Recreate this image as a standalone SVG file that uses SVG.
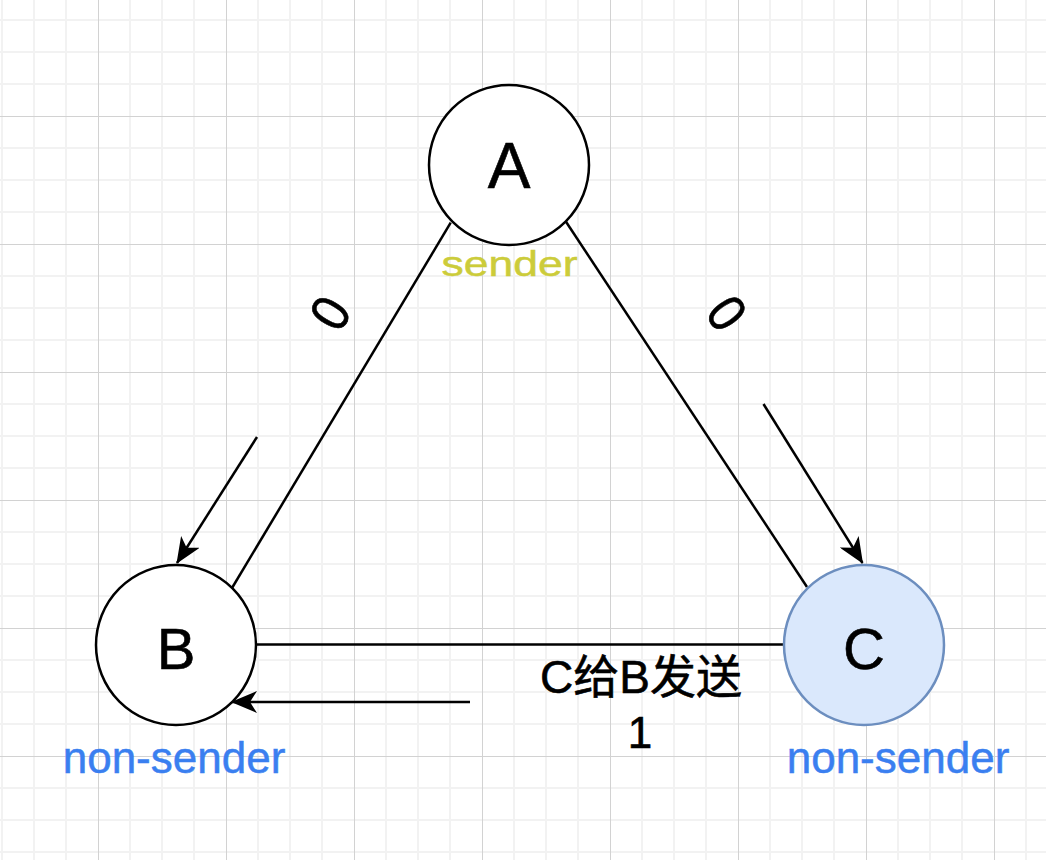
<svg xmlns="http://www.w3.org/2000/svg" width="1046" height="860" viewBox="0 0 1046 860">
  <defs>
    <pattern id="grid" patternUnits="userSpaceOnUse" x="-30" y="-12" width="128" height="128">
      <rect width="128" height="128" fill="#ffffff"/>
      <g stroke="#f2f2f2" stroke-width="2">
        <line x1="32" y1="0" x2="32" y2="128"/>
        <line x1="64" y1="0" x2="64" y2="128"/>
        <line x1="96" y1="0" x2="96" y2="128"/>
        <line x1="0" y1="32" x2="128" y2="32"/>
        <line x1="0" y1="64" x2="128" y2="64"/>
        <line x1="0" y1="96" x2="128" y2="96"/>
      </g>
      <g stroke="#d2d2d2" stroke-width="1">
        <line x1="0.5" y1="0" x2="0.5" y2="128"/>
        <line x1="0" y1="0.5" x2="128" y2="0.5"/>
      </g>
    </pattern>
    <marker id="arrow" markerUnits="userSpaceOnUse" viewBox="0 0 26 22" refX="25" refY="11" markerWidth="26" markerHeight="22" orient="auto">
      <path d="M0,0 L26,11 L0,22 L7,11 Z" fill="#000"/>
    </marker>
  </defs>
  <style>
    .edge { stroke: #000; stroke-width: 2.5; fill: none; }
    .arr { stroke: #000; stroke-width: 2.5; fill: none; marker-end: url(#arrow); }
    .node { fill: #ffffff; stroke: #000; stroke-width: 2.5; }
    .lbl { font-family: "Liberation Sans", Arial, "Noto Sans CJK SC", sans-serif; fill: #000; stroke: #000; stroke-width: 0.6; text-anchor: middle; }
    .blue { font-family: "Liberation Sans", Arial, sans-serif; fill: #3a7ff0; stroke: #3a7ff0; stroke-width: 0.5; text-anchor: middle; font-size: 44px; }
  </style>
  <rect width="1046" height="860" fill="url(#grid)"/>

  <g id="connectors">
    <line class="edge" x1="450.7" y1="222.7" x2="232" y2="588"/>
    <line class="edge" x1="566" y1="221.7" x2="807" y2="587"/>
    <line class="edge" x1="256" y1="644.5" x2="784" y2="644.5"/>
    <line class="arr" x1="257" y1="437" x2="177" y2="563"/>
    <line class="arr" x1="763.5" y1="404" x2="862.5" y2="563"/>
    <line class="arr" x1="470" y1="702" x2="232" y2="702"/>
    <text class="lbl" font-size="54" stroke-width="1.6" transform="translate(330,313) rotate(-59) scale(0.9,1)" x="0" y="19">0</text>
    <text class="lbl" font-size="54" stroke-width="1.6" transform="translate(727,313) rotate(54) scale(0.9,1)" x="0" y="19">0</text>
    <text class="lbl" font-size="46" x="641" y="693">C给B发送</text>
    <text class="lbl" font-size="44" x="640" y="748">1</text>
  </g>

  <g id="node-A">
    <circle class="node" cx="509" cy="165" r="80"/>
    <text class="lbl" font-size="64" x="509" y="188">A</text>
    <text font-family="Liberation Sans, Arial, sans-serif" font-size="35" fill="#cccc3a" stroke="#cccc3a" stroke-width="0.5" text-anchor="middle" x="509.5" y="276" textLength="136" lengthAdjust="spacingAndGlyphs">sender</text>
  </g>

  <g id="node-B">
    <circle class="node" cx="176" cy="645" r="80"/>
    <text class="lbl" font-size="58" x="176" y="669">B</text>
    <text class="blue" x="174" y="773">non-sender</text>
  </g>

  <g id="node-C">
    <circle cx="864" cy="645" r="80" fill="#dae8fc" stroke="#6c8ebf" stroke-width="2.5"/>
    <text class="lbl" font-size="58" x="864" y="669">C</text>
    <text class="blue" x="898" y="773">non-sender</text>
  </g>
</svg>
